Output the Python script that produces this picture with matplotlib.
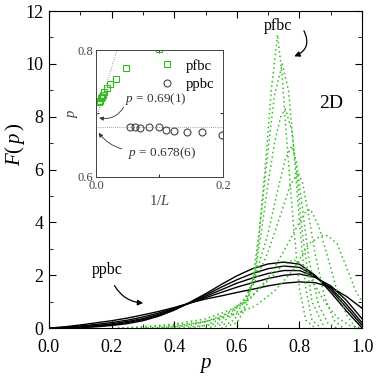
import numpy as np
import matplotlib
matplotlib.use('Agg')
import matplotlib.pyplot as plt
from matplotlib.ticker import MultipleLocator

plt.rcParams['font.family'] = 'Liberation Serif'
plt.rcParams['mathtext.fontset'] = 'custom'
plt.rcParams['mathtext.rm'] = 'Liberation Serif'
plt.rcParams['mathtext.it'] = 'Liberation Serif:italic'

# ppbc distributions (black solid), sampled every 0.05 in p
p_grid = [0.0, 0.05, 0.1, 0.15, 0.2, 0.25, 0.3, 0.35, 0.4, 0.45, 0.5,
          0.55, 0.6, 0.65, 0.7, 0.75, 0.8, 0.85, 0.9, 0.95, 1.0]
ppbc_1 = [0, 0.05, 0.12, 0.2, 0.28, 0.38, 0.5, 0.63, 0.78, 0.95, 1.1,
          1.22, 1.35, 1.47, 1.6, 1.7, 1.75, 1.72, 1.55, 1.2, 0.75]
ppbc_2 = [0, 0.03, 0.08, 0.14, 0.21, 0.3, 0.42, 0.57, 0.75, 0.95, 1.15,
          1.35, 1.55, 1.72, 1.88, 2.0, 2.05, 1.92, 1.6, 1.05, 0.35]
ppbc_3 = [0, 0.02, 0.05, 0.1, 0.16, 0.25, 0.36, 0.52, 0.72, 0.95, 1.2,
          1.45, 1.7, 1.9, 2.07, 2.18, 2.18, 1.95, 1.52, 0.9, 0.2]
ppbc_4 = [0, 0.01, 0.03, 0.07, 0.13, 0.21, 0.32, 0.48, 0.7, 0.96, 1.25,
          1.55, 1.83, 2.07, 2.25, 2.35, 2.3, 1.98, 1.45, 0.78, 0.1]
ppbc_5 = [0, 0.0, 0.02, 0.05, 0.1, 0.17, 0.28, 0.45, 0.68, 0.98, 1.3,
          1.65, 1.98, 2.25, 2.43, 2.5, 2.42, 2.0, 1.35, 0.65, 0.0]
ppbc_curves = [ppbc_1, ppbc_2, ppbc_3, ppbc_4, ppbc_5]

# pfbc distributions (green dotted)
pf_p1 = [0.55, 0.60, 0.63, 0.65, 0.67, 0.69, 0.71, 0.73, 0.745, 0.76, 0.78, 0.80, 0.82, 0.85]
pf_F1 = [0, 0.2, 0.8, 1.8, 3.5, 6.0, 9.0, 11.1, 9.5, 7.0, 4.0, 1.5, 0.3, 0]
pf_p2 = [0.50, 0.58, 0.62, 0.64, 0.66, 0.68, 0.70, 0.72, 0.745, 0.765, 0.78, 0.80, 0.82, 0.84, 0.87]
pf_F2 = [0, 0.2, 0.7, 1.3, 2.3, 4.5, 6.8, 8.8, 10.0, 9.0, 7.0, 4.0, 1.5, 0.3, 0]
pf_p3 = [0.45, 0.55, 0.60, 0.63, 0.66, 0.68, 0.70, 0.72, 0.74, 0.755, 0.775, 0.79, 0.81, 0.84, 0.88]
pf_F3 = [0, 0.2, 0.6, 1.1, 2.2, 3.8, 5.5, 7.0, 8.0, 8.3, 7.5, 6.0, 3.5, 1.0, 0]
pf_p4 = [0.40, 0.50, 0.58, 0.63, 0.66, 0.70, 0.73, 0.755, 0.775, 0.79, 0.81, 0.83, 0.86, 0.89, 0.92]
pf_F4 = [0, 0.1, 0.5, 1.2, 2.0, 3.6, 5.2, 6.4, 6.9, 6.3, 4.5, 2.6, 0.9, 0.2, 0]
pf_p5 = [0.35, 0.45, 0.55, 0.62, 0.66, 0.70, 0.74, 0.77, 0.795, 0.81, 0.83, 0.85, 0.88, 0.91, 0.94]
pf_F5 = [0, 0.1, 0.4, 1.0, 1.8, 2.9, 4.3, 5.4, 5.9, 5.5, 4.2, 2.8, 1.2, 0.3, 0]
pf_p6 = [0.30, 0.40, 0.50, 0.58, 0.64, 0.70, 0.75, 0.79, 0.82, 0.835, 0.86, 0.89, 0.92, 0.95, 0.98]
pf_F6 = [0, 0.05, 0.25, 0.6, 1.1, 1.9, 2.9, 3.8, 4.4, 4.5, 3.9, 2.7, 1.4, 0.5, 0]
pf_p7 = [0.22, 0.30, 0.40, 0.50, 0.60, 0.66, 0.72, 0.78, 0.83, 0.87, 0.89, 0.92, 0.95, 0.98, 1.0]
pf_F7 = [0, 0.03, 0.1, 0.25, 0.55, 0.85, 1.4, 2.2, 3.2, 3.5, 3.5, 3.2, 2.3, 1.4, 1.0]
pf_p8 = [0.22, 0.30, 0.40, 0.50, 0.58, 0.64, 0.70, 0.74, 0.78, 0.81, 0.84, 0.88, 0.92, 0.96, 1.0]
pf_F8 = [0, 0.05, 0.15, 0.35, 0.7, 1.1, 1.8, 2.3, 2.6, 2.4, 1.8, 1.0, 0.4, 0.1, 0]
pfbc_curves = [(pf_p1, pf_F1), (pf_p2, pf_F2), (pf_p3, pf_F3), (pf_p4, pf_F4),
               (pf_p5, pf_F5), (pf_p6, pf_F6), (pf_p7, pf_F7), (pf_p8, pf_F8)]

# inset: p_c estimate vs 1/L
inv_L_pf = [0.0053, 0.0065, 0.0079, 0.0092, 0.0105, 0.0132, 0.0168, 0.0222, 0.0317, 0.0476, 0.099]
pc_pf = [0.718, 0.720, 0.724, 0.726, 0.729, 0.734, 0.740, 0.746, 0.755, 0.771, 0.801]
inv_L_pp = [0.054, 0.061, 0.070, 0.083, 0.099, 0.110, 0.123, 0.143, 0.167, 0.198]
pc_pp = [0.679, 0.679, 0.677, 0.679, 0.679, 0.674, 0.673, 0.671, 0.670, 0.666]
fit_x = [0.0, 0.04]
fit_y = [0.69, 0.823]
pc_ppbc = 0.678

green = '#33bb22'

fig = plt.figure(figsize=(3.82, 3.82), dpi=100)
ax = fig.add_axes([0.128, 0.141, 0.820, 0.830])

for F in ppbc_curves:
    ax.plot(p_grid, F, color='black', lw=1.0)
for px, F in pfbc_curves:
    ax.plot(px, F, color=green, lw=1.1, ls=(0, (1, 2)))

ax.set_xlim(0, 1)
ax.set_ylim(0, 12)
ax.xaxis.set_major_locator(MultipleLocator(0.2))
ax.xaxis.set_minor_locator(MultipleLocator(0.1))
ax.yaxis.set_major_locator(MultipleLocator(2))
ax.yaxis.set_minor_locator(MultipleLocator(1))
ax.set_xticks([0, 0.2, 0.4, 0.6, 0.8, 1.0])
ax.set_xticklabels(['0.0', '0.2', '0.4', '0.6', '0.8', '1.0'])
ax.tick_params(which='both', direction='in', top=True, right=True, labelsize=13, pad=4)
ax.tick_params(axis='x', which='both', pad=8)
ax.tick_params(which='major', length=5)
ax.tick_params(which='minor', length=3)
ax.set_xlabel(r'$p$', fontsize=15, labelpad=0)
ax.set_ylabel(r'$F(\,p\,)$', fontsize=15)
ax.yaxis.set_label_coords(-0.07, 0.58)

ax.text(0.73, 11.45, 'pfbc', fontsize=11.5, ha='center', va='center')
ax.annotate('', xy=(0.775, 10.25), xytext=(0.81, 11.35),
            arrowprops=dict(arrowstyle='-|>', color='black', lw=0.9,
                            connectionstyle='arc3,rad=-0.6', mutation_scale=8))
ax.text(0.9, 8.5, '2D', fontsize=14, ha='center', va='center')
ax.text(0.185, 2.2, 'ppbc', fontsize=11.5, ha='center', va='center')
ax.annotate('', xy=(0.31, 0.95), xytext=(0.205, 1.7),
            arrowprops=dict(arrowstyle='-|>', color='black', lw=0.9,
                            connectionstyle='arc3,rad=0.3', mutation_scale=8))

# inset
ins = fig.add_axes([0.251, 0.537, 0.333, 0.332])
ins.plot(fit_x, fit_y, color='gray', lw=0.6, ls=(0, (1, 1.5)))
ins.axhline(pc_ppbc, color='gray', lw=0.6, ls=(0, (1, 1.5)))
ins.plot(inv_L_pf, pc_pf, ls='none', marker='s', ms=5, mfc='none', mec=green, mew=0.8, label='pfbc')
ins.plot(inv_L_pp, pc_pp, ls='none', marker='o', ms=5, mfc='none', mec='#444444', mew=0.8, label='ppbc')
ins.set_xlim(0, 0.2)
ins.set_ylim(0.6, 0.8)
ins.set_xticks([0.0, 0.2])
ins.set_xticklabels(['0.0', '0.2'])
ins.set_yticks([0.6, 0.8])
ins.set_yticklabels(['0.6', '0.8'])
ins.xaxis.set_minor_locator(MultipleLocator(0.1))
ins.yaxis.set_minor_locator(MultipleLocator(0.1))
ins.tick_params(which='both', direction='in', top=True, right=True, labelsize=9,
                labelcolor='#444444', pad=2, width=0.6)
ins.tick_params(which='major', length=3)
ins.tick_params(which='minor', length=2)
for s in ins.spines.values():
    s.set_linewidth(0.7)
    s.set_color('#444444')
ins.set_xlabel(r'$1/L$', fontsize=10.5, color='#444444', labelpad=2)
ins.set_ylabel(r'$p$', fontsize=10.5, color='#444444', labelpad=-2)
ins.legend(loc='upper right', frameon=False, fontsize=10.5, handletextpad=0.7,
           borderaxespad=0.2, labelspacing=0.35, handlelength=1.2)
ins.text(0.045, 0.723, r'$p$ = 0.69(1)', fontsize=9.5, ha='left', va='center', color='#333333')
ins.annotate('', xy=(0.001, 0.694), xytext=(0.046, 0.714),
             arrowprops=dict(arrowstyle='-|>', color='#333333', lw=0.6,
                             connectionstyle='arc3,rad=-0.4', mutation_scale=6))
ins.text(0.05, 0.638, r'$p$ = 0.678(6)', fontsize=9.5, ha='left', va='center', color='#333333')
ins.annotate('', xy=(0.002, 0.673), xytext=(0.045, 0.643),
             arrowprops=dict(arrowstyle='-|>', color='#333333', lw=0.6,
                             connectionstyle='arc3,rad=-0.2', mutation_scale=6))

fig.savefig('out.png', dpi=100)
